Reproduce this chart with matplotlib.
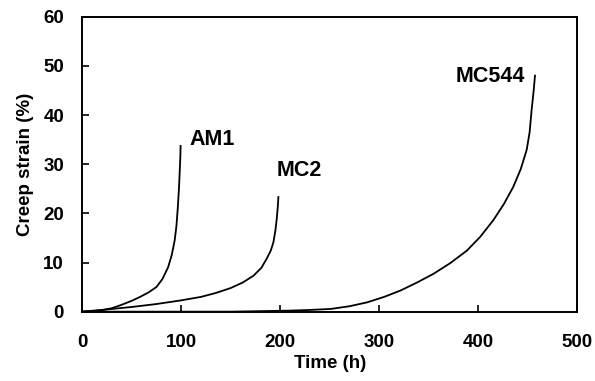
import matplotlib
matplotlib.use("Agg")
import matplotlib.pyplot as plt

# creep curves (time in h, strain in %)
am1_time = [0, 10, 20, 30, 40, 50, 58.5, 67, 75, 81, 86.8, 90.5, 93.5, 95.3, 96.7, 97.8, 98.6, 99.2, 99.5]
am1_strain = [0, 0.1, 0.3, 0.7, 1.4, 2.2, 3.0, 3.9, 5.0, 6.6, 9.0, 11.5, 14.5, 17.5, 21.3, 25.0, 28.5, 31.5, 33.9]

mc2_time = [0, 25, 50, 75, 100, 120, 135, 150, 162, 173, 181, 186.5, 190.5, 193.2, 195.2, 196.6, 197.6, 198.3]
mc2_strain = [0, 0.45, 0.95, 1.55, 2.3, 3.0, 3.8, 4.8, 5.9, 7.3, 8.9, 10.8, 12.4, 14.1, 16.5, 18.9, 21.2, 23.5]

mc544_time = [0, 150, 208, 230, 251, 270, 288, 305, 321.6, 338, 354.9, 372, 388.5, 402, 415.3, 426, 435.5, 443, 449, 452, 454, 456, 457.5]
mc544_strain = [0, 0, 0.2, 0.35, 0.55, 1.1, 1.9, 3.0, 4.3, 5.9, 7.7, 9.9, 12.4, 15.2, 18.6, 21.9, 25.4, 29.0, 32.9, 36.5, 41.0, 44.8, 48.2]

labels = ["AM1", "MC2", "MC544"]
label_pos = [(108.5, 34.0, "left"), (196.5, 27.7, "left"), (447.5, 46.7, "right")]

xticks = [0, 100, 200, 300, 400, 500]
yticks = [0, 10, 20, 30, 40, 50, 60]

plt.rcParams['font.family'] = ['Liberation Sans', 'DejaVu Sans']
plt.rcParams['font.weight'] = 'bold'

fig = plt.figure(figsize=(5.95, 3.81), dpi=100)
ax = fig.add_axes([0.138, 0.182, 0.832, 0.774])

for t, s in [(am1_time, am1_strain), (mc2_time, mc2_strain), (mc544_time, mc544_strain)]:
    ax.plot(t, s, color='black', lw=1.3, solid_capstyle='butt', solid_joinstyle='round')

for name, (x, y, ha) in zip(labels, label_pos):
    ax.text(x, y, name, ha=ha, va='baseline', fontsize=15.5, fontweight='bold')

ax.set_xlim(0, 500)
ax.set_ylim(0, 60)
ax.set_xticks(xticks)
ax.set_yticks(yticks)
ax.tick_params(axis='both', direction='in', length=5, width=1.2, labelsize=13.5)
ax.tick_params(axis='x', pad=16)
ax.tick_params(axis='y', pad=13)
for sp in ax.spines.values():
    sp.set_linewidth(1.4)

ax.set_xlabel("Time (h)", fontsize=13.5, fontweight='bold', labelpad=3)
ax.set_ylabel("Creep strain (%)", fontsize=13.5, fontweight='bold', labelpad=7)

fig.savefig("out.png", dpi=100)
